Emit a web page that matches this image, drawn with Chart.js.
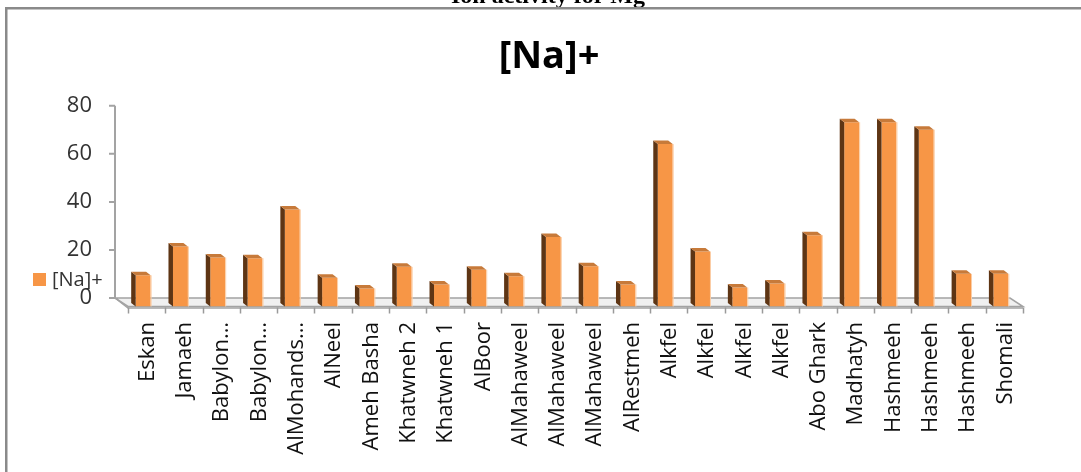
<!DOCTYPE html>
<html>
<head>
<meta charset="utf-8">
<title>[Na]+</title>
<script src="https://cdn.jsdelivr.net/npm/chart.js@4"></script>
<style>
  html, body { margin: 0; padding: 0; background: #ffffff; overflow: hidden; }
  #wrap { width: 1081px; height: 472px; position: relative; overflow: hidden; }
  canvas { display: block; }
</style>
</head>
<body>
<div id="wrap"><canvas id="c" width="1081" height="472"></canvas></div>
<script>
// Sampling sites along the x axis
const categories = [
  'Eskan', 'Jamaeh', 'Babylon…', 'Babylon…', 'AlMohands…', 'AlNeel',
  'Ameh Basha', 'Khatwneh 2', 'Khatwneh 1', 'AlBoor', 'AlMahaweel',
  'AlMahaweel', 'AlMahaweel', 'AlRestmeh', 'Alkfel', 'Alkfel', 'Alkfel',
  'Alkfel', 'Abo Ghark', 'Madhatyh', 'Hashmeeh', 'Hashmeeh', 'Hashmeeh',
  'Shomali'
];

// Sodium values per site
const naValues = [
  13.0, 25.0, 20.4, 20.1, 40.4, 12.0,
  7.5, 16.5, 9.2, 15.3, 12.6,
  28.9, 16.8, 9.2, 67.6, 22.9, 7.9,
  9.6, 29.7, 76.7, 76.7, 73.6, 13.6,
  13.6
];

// Value axis tick labels
const yTicks = [0, 20, 40, 60, 80];

const seriesLabel = '[Na]+';
const chartTitle = '[Na]+';
const pageHeading = 'Ion activity for Mg';

// Oblique 3-D look: floor depth and column depth offsets
const FLOOR_DX = 13, FLOOR_DY = 8.5;
const FRONT_SHIFT = 3.5;       // front floor edge vs. column centres
const COL_DX = 4.5, COL_DY = 3.5;

const ORANGE = '#F79646';
const ORANGE_SIDE = '#5E3514';
const ORANGE_TOP = '#C77A3A';
const ORANGE_EDGE = '#FBCDA5';

const labelFont = '22px "Open Sans", "DejaVu Sans", sans-serif';

const decor = {
  id: 'decor',
  beforeDraw(chart) {
    const ctx = chart.ctx;
    ctx.save();
    ctx.fillStyle = '#ffffff';
    ctx.fillRect(0, 0, chart.width, chart.height);

    // heading cut by the top edge
    ctx.fillStyle = '#000000';
    ctx.font = 'bold 24px "Liberation Serif", "DejaVu Serif", serif';
    ctx.textAlign = 'center';
    ctx.textBaseline = 'alphabetic';
    ctx.fillText(pageHeading, 548, 2.5);

    // frame around the chart (left and top sides)
    ctx.fillStyle = '#8a8a8a';
    ctx.fillRect(5, 7, 2.5, chart.height - 7);
    ctx.fillRect(5, 7, chart.width - 5, 2.5);

    // chart title
    ctx.fillStyle = '#000000';
    ctx.font = 'bold 38px "Open Sans", "DejaVu Sans", sans-serif';
    ctx.textAlign = 'center';
    ctx.textBaseline = 'middle';
    ctx.fillText(chartTitle, 549, 57);

    // legend
    ctx.fillStyle = ORANGE;
    ctx.fillRect(33, 273, 13, 13);
    ctx.fillStyle = '#333333';
    ctx.font = '20px "Open Sans", "DejaVu Sans", sans-serif';
    ctx.textAlign = 'left';
    ctx.textBaseline = 'middle';
    ctx.fillText(chart.data.datasets[0].label, 52, 280);
    ctx.restore();
  },
  beforeDatasetsDraw(chart) {
    const ctx = chart.ctx;
    const xs = chart.scales.x, ys = chart.scales.y;
    const n = chart.data.labels.length;
    const step = (xs.right - xs.left) / n;
    const y0 = ys.getPixelForValue(0);
    const fl = xs.left + FRONT_SHIFT, fr = xs.right + FRONT_SHIFT;
    ctx.save();

    // floor
    ctx.fillStyle = '#f0f0f0';
    ctx.strokeStyle = '#a3a3a3';
    ctx.lineWidth = 1.5;
    ctx.beginPath();
    ctx.moveTo(fl - FLOOR_DX, y0 - FLOOR_DY);
    ctx.lineTo(fr - FLOOR_DX, y0 - FLOOR_DY);
    ctx.lineTo(fr, y0);
    ctx.lineTo(fl, y0);
    ctx.closePath();
    ctx.fill();
    ctx.stroke();
    ctx.beginPath();
    ctx.moveTo(fl - FLOOR_DX, y0 - FLOOR_DY);
    ctx.lineTo(fl, y0 + 1.5);
    ctx.lineTo(fr, y0 + 1.5);
    ctx.stroke();

    // category tick marks on the front edge
    ctx.strokeStyle = '#9a9a9a';
    ctx.lineWidth = 1.5;
    ctx.beginPath();
    for (let i = 0; i <= n; i++) {
      const x = Math.round(fl + i * step) + 0.5;
      ctx.moveTo(x, y0 + 1);
      ctx.lineTo(x, y0 + 7);
    }
    ctx.stroke();

    // value axis on the back wall
    const wallX = fl - FLOOR_DX;
    const yTop = ys.getPixelForValue(yTicks[yTicks.length - 1]) - FLOOR_DY;
    ctx.strokeStyle = '#a3a3a3';
    ctx.lineWidth = 2;
    ctx.beginPath();
    ctx.moveTo(wallX, yTop);
    ctx.lineTo(wallX, y0 - FLOOR_DY);
    yTicks.forEach(v => {
      const y = ys.getPixelForValue(v) - FLOOR_DY;
      ctx.moveTo(wallX - 6, y);
      ctx.lineTo(wallX, y);
    });
    ctx.stroke();

    ctx.fillStyle = '#333333';
    ctx.font = '22px "Open Sans", "DejaVu Sans", sans-serif';
    ctx.textAlign = 'right';
    ctx.textBaseline = 'middle';
    yTicks.forEach(v => {
      const y = ys.getPixelForValue(v) - FLOOR_DY;
      ctx.fillText(String(v), 92, y);
    });

    // category labels, rotated, ending just under the ticks
    ctx.fillStyle = '#111111';
    ctx.font = labelFont;
    chart.data.labels.forEach((lab, i) => {
      const x = xs.getPixelForValue(i) + FRONT_SHIFT;
      ctx.save();
      ctx.translate(x + 1, 322);
      ctx.rotate(-Math.PI / 2);
      ctx.textAlign = 'right';
      ctx.textBaseline = 'middle';
      ctx.fillText(lab, 0, 0);
      ctx.restore();
    });
    ctx.restore();
  },
  afterDatasetsDraw(chart) {
    const ctx = chart.ctx;
    const meta = chart.getDatasetMeta(0);
    ctx.save();
    meta.data.forEach(bar => {
      const p = bar.getProps(['x', 'y', 'base', 'width'], true);
      const l = p.x - p.width / 2, r = p.x + p.width / 2;
      // left side face
      ctx.fillStyle = ORANGE_SIDE;
      ctx.beginPath();
      ctx.moveTo(l, p.base);
      ctx.lineTo(l, p.y);
      ctx.lineTo(l - COL_DX, p.y - COL_DY);
      ctx.lineTo(l - COL_DX, p.base - COL_DY);
      ctx.closePath();
      ctx.fill();
      // top face
      ctx.fillStyle = ORANGE_TOP;
      ctx.beginPath();
      ctx.moveTo(l, p.y);
      ctx.lineTo(r, p.y);
      ctx.lineTo(r - COL_DX, p.y - COL_DY);
      ctx.lineTo(l - COL_DX, p.y - COL_DY);
      ctx.closePath();
      ctx.fill();
      // soft right edge highlight
      ctx.fillStyle = ORANGE_EDGE;
      ctx.fillRect(r, p.y, 1, p.base - p.y);
    });
    ctx.restore();
  }
};

new Chart(document.getElementById('c'), {
  type: 'bar',
  data: {
    labels: categories,
    datasets: [{
      label: seriesLabel,
      data: naValues,
      backgroundColor: ORANGE,
      borderWidth: 0,
      categoryPercentage: 1.0,
      barPercentage: 0.40
    }]
  },
  options: {
    responsive: false,
    animation: false,
    devicePixelRatio: 1,
    layout: { padding: { left: 124.5, right: 61.5, top: 114.3, bottom: 165.5 } },
    scales: {
      x: { display: false, offset: true, grid: { display: false } },
      y: { display: false, min: yTicks[0], max: yTicks[yTicks.length - 1] }
    },
    plugins: {
      legend: { display: false },
      title: { display: false },
      tooltip: { enabled: false }
    }
  },
  plugins: [decor]
});
</script>
</body>
</html>
